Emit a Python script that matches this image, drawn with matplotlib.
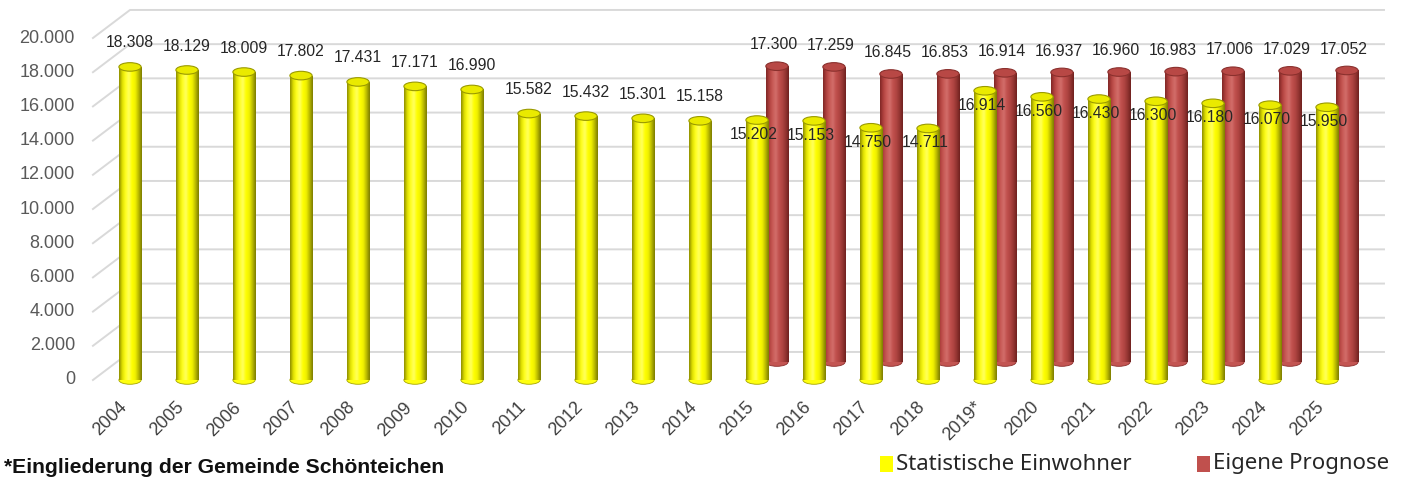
import numpy as np
import matplotlib
matplotlib.use("Agg")
import matplotlib.pyplot as plt
from matplotlib.patches import Ellipse, Rectangle
from matplotlib.colors import LinearSegmentedColormap

# data
years = ["2004", "2005", "2006", "2007", "2008", "2009", "2010", "2011", "2012",
         "2013", "2014", "2015", "2016", "2017", "2018", "2019*", "2020", "2021",
         "2022", "2023", "2024", "2025"]
stat_einwohner = [18308, 18129, 18009, 17802, 17431, 17171, 16990, 15582, 15432,
                  15301, 15158, 15202, 15153, 14750, 14711, 16914, 16560, 16430,
                  16300, 16180, 16070, 15950]
prog_years = ["2015", "2016", "2017", "2018", "2019*", "2020", "2021", "2022",
              "2023", "2024", "2025"]
eigene_prognose = [17300, 17259, 16845, 16853, 16914, 16937, 16960, 16983,
                   17006, 17029, 17052]
y_ticks = list(range(0, 20001, 2000))


def fmt(v):
    return "{:,}".format(v).replace(",", ".")


W, H = 1411, 479
fig = plt.figure(figsize=(W / 100, H / 100), dpi=100)
ax = fig.add_axes([0, 0, 1, 1])

# pixel mapping: category i -> 130 + 57*i, value v -> 380 - 0.0171*v
px_cat = 57.0
px_val = 0.0171
ax.set_xlim(-130 / px_cat, (W - 130) / px_cat)
ax.set_ylim((380 - H) / px_val, 380 / px_val)
ax.axis("off")

wall_dx = 0.65      # depth shift of the back wall (categories)
wall_dy = 1640      # depth shift of the back wall (value units)
back_dx = 0.35      # second row (forecast) shift
back_dy = 1050
bw = 0.39
eh = 500

# back wall grid
for v in y_ticks:
    ax.plot([-wall_dx, 0, 22.0], [v, v + wall_dy, v + wall_dy],
            color="#d9d9d9", lw=1.4, zorder=1)
    ax.text(-0.965, v, fmt(v), ha="right", va="center", fontsize=13,
            color="#595959", family="Liberation Sans")

yellow_cmap = LinearSegmentedColormap.from_list(
    "yl", ["#8a8a00", "#e0e000", "#ffff20", "#ffff60", "#ffff00", "#f0f000", "#b8b800", "#7a7a00"])
red_cmap = LinearSegmentedColormap.from_list(
    "rd", ["#7e2624", "#b0413e", "#c85a56", "#d26e6a", "#c0504d", "#b04542", "#943532", "#6e201e"])
grad = np.linspace(0, 1, 128).reshape(1, -1)


def cylinders(xs, bottoms, heights, cmap, top_fc, top_ec, z):
    bars = ax.bar(xs, heights, width=bw, bottom=bottoms, color=cmap(0.5),
                  linewidth=0, zorder=z)
    for b, x0, b0, h in zip(bars, xs, bottoms, heights):
        ax.add_patch(Ellipse((x0, b0), bw, eh, fc=cmap(0.55), ec=cmap(0.05),
                             lw=0.6, zorder=z - 0.1))
        im = ax.imshow(grad, cmap=cmap, extent=(x0 - bw / 2, x0 + bw / 2, b0, b0 + h),
                       aspect="auto", interpolation="bicubic", zorder=z)
        im.set_clip_path(b)
        ax.add_patch(Ellipse((x0, b0 + h), bw, eh, fc=top_fc, ec=top_ec,
                             lw=0.8, zorder=z + 0.1))


x_stat = np.arange(len(years))
x_prog = np.array([years.index(y) for y in prog_years]) + back_dx

cylinders(x_prog, [back_dy] * len(x_prog), eigene_prognose, red_cmap,
          "#b84845", "#8a302d", 3)
cylinders(x_stat, [0] * len(x_stat), stat_einwohner, yellow_cmap,
          "#eaea00", "#9a9a00", 5)

# value labels
for i, v in enumerate(stat_einwohner):
    if years[i] in prog_years:
        ax.text(i - 0.05, v - 850, fmt(v), ha="center", va="center",
                fontsize=11.3, color="#262626", family="Liberation Sans", zorder=8)
    else:
        ax.text(i, v + 1400, fmt(v), ha="center", va="center",
                fontsize=11.3, color="#262626", family="Liberation Sans", zorder=8)
for x0, v in zip(x_prog, eigene_prognose):
    ax.text(x0 - 0.05, v + back_dy + 1250, fmt(v), ha="center", va="center",
            fontsize=11.3, color="#262626", family="Liberation Sans", zorder=8)

# category labels
for i, y in enumerate(years):
    ax.text(i - 0.1, -1450, y, rotation=45, rotation_mode="anchor",
            ha="right", va="center", fontsize=13, color="#404040",
            family="Liberation Sans")

# footnote
fig.text(4 / W, 1 - 473 / H, "*Eingliederung der Gemeinde Schönteichen",
         ha="left", va="baseline", fontsize=15.2, fontweight="bold",
         color="#111111", family="Liberation Sans")

# legend
for x_sq, col, label in [(880, "#ffff00", "Statistische Einwohner"),
                         (1197, "#c0504d", "Eigene Prognose")]:
    fig.patches.append(Rectangle((x_sq / W, 1 - 472 / H), 13 / W, 16 / H,
                                 transform=fig.transFigure, fc=col, ec="none"))
    fig.text((x_sq + 16) / W, 1 - 464 / H, label, ha="left", va="center",
             fontsize=16, color="#262626", family="Noto Sans")

fig.savefig("out.png", dpi=100)
